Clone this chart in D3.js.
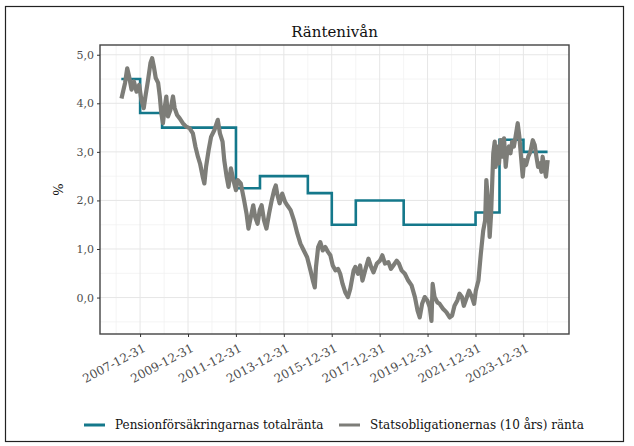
<!DOCTYPE html>
<html>
<head>
<meta charset="utf-8">
<script src="https://cdn.jsdelivr.net/npm/d3@7"></script>
<style>
  body { margin: 0; background: #fff; }
  text { font-family: "DejaVu Serif", serif; }
</style>
</head>
<body>
<div id="chart"></div>
<script>
// Pensionsförsäkringarnas totalränta (steg)
var stepDates = ["2007-03-20", "2008-01-01", "2008-12-01", "2012-01-01", "2013-01-01", "2015-01-01",
  "2016-01-01", "2017-01-01", "2019-01-01", "2022-01-01", "2023-01-01", "2024-01-01", "2025-01-03"];
var stepRates = [4.5, 3.8, 3.5, 2.25, 2.5, 2.15, 1.5, 2.0, 1.5, 1.75, 3.25, 3.0, 3.0];

// Statsobligationernas 10-årsränta, avläst (år som decimaltal)
var bondYears = [2007.22, 2007.37, 2007.46, 2007.54, 2007.64, 2007.74, 2007.85, 2007.96, 2008.05, 2008.15,
  2008.22, 2008.33, 2008.43, 2008.50, 2008.57, 2008.65, 2008.75, 2008.82, 2008.88, 2008.95,
  2009.02, 2009.09, 2009.16, 2009.26, 2009.37, 2009.44, 2009.54, 2009.65, 2009.78, 2009.92,
  2010.06, 2010.20, 2010.31, 2010.41, 2010.50, 2010.61, 2010.68, 2010.75, 2010.86, 2010.96,
  2011.10, 2011.24, 2011.33, 2011.44, 2011.51, 2011.61, 2011.69, 2011.79, 2011.89, 2012.00,
  2012.07, 2012.20, 2012.34, 2012.44, 2012.52, 2012.62, 2012.72, 2012.80, 2012.90, 2012.99,
  2013.07, 2013.17, 2013.27, 2013.38, 2013.49, 2013.59, 2013.66, 2013.73, 2013.82, 2013.93,
  2014.05, 2014.14, 2014.28, 2014.42, 2014.56, 2014.69, 2014.83, 2014.97, 2015.11, 2015.21,
  2015.29, 2015.34, 2015.43, 2015.52, 2015.62, 2015.73, 2015.84, 2015.94, 2016.04, 2016.15,
  2016.26, 2016.35, 2016.45, 2016.56, 2016.67, 2016.77, 2016.91, 2016.98, 2017.09, 2017.18,
  2017.28, 2017.39, 2017.53, 2017.64, 2017.74, 2017.88, 2018.01, 2018.11, 2018.22, 2018.36,
  2018.47, 2018.57, 2018.71, 2018.80, 2018.91, 2019.05, 2019.19, 2019.33, 2019.47, 2019.58,
  2019.67, 2019.77, 2019.88, 2019.99, 2020.09, 2020.16, 2020.21, 2020.29, 2020.41, 2020.50,
  2020.64, 2020.78, 2020.92, 2021.02, 2021.12, 2021.24, 2021.33, 2021.43, 2021.51, 2021.61,
  2021.73, 2021.85, 2021.94, 2022.01, 2022.12, 2022.22, 2022.32, 2022.40, 2022.45, 2022.54,
  2022.59, 2022.65, 2022.70, 2022.74, 2022.80, 2022.84, 2022.91, 2022.98, 2023.05, 2023.12,
  2023.19, 2023.26, 2023.32, 2023.39, 2023.46, 2023.53, 2023.60, 2023.67, 2023.76, 2023.83,
  2023.90, 2023.97, 2024.03, 2024.11, 2024.20, 2024.29, 2024.39, 2024.47, 2024.54, 2024.61,
  2024.68, 2024.75, 2024.80, 2024.87, 2024.94, 2025.01];
var bondRates = [4.10, 4.42, 4.72, 4.55, 4.28, 4.45, 4.24, 4.38, 4.07, 3.90,
  4.14, 4.48, 4.83, 4.93, 4.76, 4.52, 4.42, 4.14, 3.80, 3.59,
  3.90, 4.14, 3.73, 3.86, 4.14, 3.90, 3.76, 3.69, 3.59, 3.52,
  3.49, 3.38, 3.10, 2.90, 2.76, 2.49, 2.35, 2.69, 3.04, 3.31,
  3.45, 3.66, 3.38, 3.21, 2.83, 2.49, 2.28, 2.66, 2.42, 2.21,
  2.42, 2.35, 2.00, 1.73, 1.42, 1.66, 1.90, 1.66, 1.52, 1.80,
  1.90, 1.59, 1.42, 1.73, 2.00, 2.21, 2.31, 2.11, 1.94, 2.14,
  1.97, 1.90, 1.80, 1.59, 1.32, 1.11, 0.97, 0.83, 0.56, 0.35,
  0.21, 0.63, 1.04, 1.14, 0.97, 1.04, 0.94, 0.87, 0.66, 0.56,
  0.59, 0.49, 0.28, 0.11, 0.01, 0.18, 0.56, 0.63, 0.49, 0.66,
  0.35, 0.56, 0.80, 0.63, 0.52, 0.70, 0.76, 0.87, 0.70, 0.73,
  0.59, 0.66, 0.76, 0.70, 0.56, 0.49, 0.35, 0.25, 0.01, -0.27,
  -0.41, -0.13, 0.01, -0.06, -0.20, -0.48, 0.28, 0.01, -0.10, -0.13,
  -0.23, -0.30, -0.41, -0.37, -0.17, -0.06, 0.08, 0.01, -0.17, -0.03,
  0.14, 0.01, -0.13, 0.14, 0.35, 0.90, 1.38, 1.59, 2.42, 1.87,
  1.25, 1.73, 2.42, 2.97, 3.21, 2.69, 3.11, 2.76, 3.24, 2.90,
  3.28, 2.69, 3.00, 3.11, 2.97, 3.21, 3.11, 3.31, 3.59, 3.31,
  2.90, 2.49, 2.83, 2.73, 2.90, 3.00, 3.24, 3.14, 2.90, 2.69,
  2.76, 2.59, 2.90, 2.69, 2.49, 2.83];

var xTickLabels = ["2007-12-31", "2009-12-31", "2011-12-31", "2013-12-31", "2015-12-31",
  "2017-12-31", "2019-12-31", "2021-12-31", "2023-12-31"];
var xMinorLabels = ["2006-12-31", "2008-12-31", "2010-12-31", "2012-12-31", "2014-12-31",
  "2016-12-31", "2018-12-31", "2020-12-31", "2022-12-31", "2024-12-31"];
var yTicks = [0, 1, 2, 3, 4, 5];
var yMinor = [-0.5, 0.5, 1.5, 2.5, 3.5, 4.5];
var seriesNames = ["Pensionförsäkringarnas totalränta", "Statsobligationernas (10 års) ränta"];
var colors = ["#14788b", "#7d7d78"];

var W = 634, H = 446;
var margin = { top: 45, right: 65, bottom: 112, left: 100 },
  width = W - margin.left - margin.right,
  height = H - margin.top - margin.bottom;

var parse = d3.timeParse("%Y-%m-%d");
function yearToDate(t) {
  var y = Math.floor(t), a = new Date(y, 0, 1), b = new Date(y + 1, 0, 1);
  return new Date(+a + (t - y) * (b - a));
}

var steps = stepDates.map(function (d, i) { return { date: parse(d), v: stepRates[i] }; });
var bond = bondYears.map(function (t, i) { return { date: yearToDate(t), v: bondRates[i] }; });

// ggplot-lik 5 % expansion
var allDates = steps.map(function (d) { return d.date; }).concat(bond.map(function (d) { return d.date; }));
var allVals = stepRates.concat(bondRates);
var dx = d3.extent(allDates), dy = d3.extent(allVals);
var padX = (dx[1] - dx[0]) * 0.05, padY = (dy[1] - dy[0]) * 0.05;

var x = d3.scaleTime()
  .domain([new Date(+dx[0] - padX), new Date(+dx[1] + padX)])
  .range([0, width]);
var y = d3.scaleLinear()
  .domain([dy[0] - padY, dy[1] + padY])
  .range([height, 0]);

var svg = d3.select("#chart").append("svg")
  .attr("width", W)
  .attr("height", H);

svg.append("rect").attr("width", W).attr("height", H).attr("fill", "#fff");
svg.append("rect")
  .attr("x", 5.5).attr("y", 6.5)
  .attr("width", 618).attr("height", 435)
  .attr("fill", "none").attr("stroke", "#222").attr("stroke-width", 1.2);

var g = svg.append("g")
  .attr("transform", "translate(" + margin.left + "," + margin.top + ")");

// rutnät
var grid = g.append("g");
grid.selectAll(".ymin").data(yMinor).enter().append("line")
  .attr("x1", 0).attr("x2", width)
  .attr("y1", function (d) { return y(d); }).attr("y2", function (d) { return y(d); })
  .attr("stroke", "#f1f1f1").attr("stroke-width", 0.8);
grid.selectAll(".xmin").data(xMinorLabels).enter().append("line")
  .attr("y1", 0).attr("y2", height)
  .attr("x1", function (d) { return x(parse(d)); }).attr("x2", function (d) { return x(parse(d)); })
  .attr("stroke", "#f1f1f1").attr("stroke-width", 0.8);
grid.selectAll(".ymaj").data(yTicks).enter().append("line")
  .attr("x1", 0).attr("x2", width)
  .attr("y1", function (d) { return y(d); }).attr("y2", function (d) { return y(d); })
  .attr("stroke", "#e6e6e6").attr("stroke-width", 1);
grid.selectAll(".xmaj").data(xTickLabels).enter().append("line")
  .attr("y1", 0).attr("y2", height)
  .attr("x1", function (d) { return x(parse(d)); }).attr("x2", function (d) { return x(parse(d)); })
  .attr("stroke", "#e6e6e6").attr("stroke-width", 1);

// linjer
var stepLine = d3.line()
  .curve(d3.curveStepAfter)
  .x(function (d) { return x(d.date); })
  .y(function (d) { return y(d.v); });
g.append("path")
  .datum(steps)
  .attr("d", stepLine)
  .attr("fill", "none")
  .attr("stroke", colors[0])
  .attr("stroke-width", 2.6);

var bondLine = d3.line()
  .x(function (d) { return x(d.date); })
  .y(function (d) { return y(d.v); });
g.append("path")
  .datum(bond)
  .attr("d", bondLine)
  .attr("fill", "none")
  .attr("stroke", colors[1])
  .attr("stroke-width", 4.2)
  .attr("stroke-linejoin", "round");

// ram
g.append("rect")
  .attr("width", width).attr("height", height)
  .attr("fill", "none").attr("stroke", "#444").attr("stroke-width", 1.4);

// axlar
var xAxis = d3.axisBottom(x)
  .tickValues(xTickLabels.map(parse))
  .tickFormat(d3.timeFormat("%Y-%m-%d"))
  .tickSize(3).tickPadding(3);
var yAxis = d3.axisLeft(y)
  .tickValues(yTicks)
  .tickFormat(function (d) { return d3.format(".1f")(d).replace(".", ","); })
  .tickSize(3).tickPadding(3);

g.append("g")
  .attr("transform", "translate(0," + height + ")")
  .call(xAxis)
  .call(function (a) {
    a.select(".domain").remove();
    a.selectAll(".tick line").attr("stroke", "#333");
    a.selectAll(".tick text")
      .attr("fill", "#4d4d4d").attr("font-size", 12)
      .attr("text-anchor", "end")
      .attr("y", 0)
      .attr("dy", "0.35em")
      .attr("transform", "translate(4,13) rotate(-28)");
  });

g.append("g")
  .call(yAxis)
  .call(function (a) {
    a.select(".domain").remove();
    a.selectAll(".tick line").attr("stroke", "#333");
    a.selectAll(".tick text").attr("fill", "#4d4d4d").attr("font-size", 11);
  });

g.append("text")
  .attr("transform", "translate(-37," + (height / 2) + ") rotate(-90)")
  .attr("text-anchor", "middle")
  .attr("font-size", 13)
  .attr("fill", "#111")
  .text("%");

svg.append("text")
  .attr("x", margin.left + width / 2).attr("y", 37)
  .attr("text-anchor", "middle")
  .attr("font-size", 15)
  .attr("fill", "#111")
  .text("Räntenivån");

// legend
var lg = svg.append("g").attr("transform", "translate(84,425)");
var lx = [0, 255];
seriesNames.forEach(function (name, i) {
  lg.append("line")
    .attr("x1", lx[i]).attr("x2", lx[i] + 21)
    .attr("stroke", colors[i]).attr("stroke-width", 3);
  lg.append("text")
    .attr("x", lx[i] + 31).attr("dy", "0.35em")
    .attr("font-size", 12).attr("fill", "#111")
    .text(name);
});
</script>
</body>
</html>
